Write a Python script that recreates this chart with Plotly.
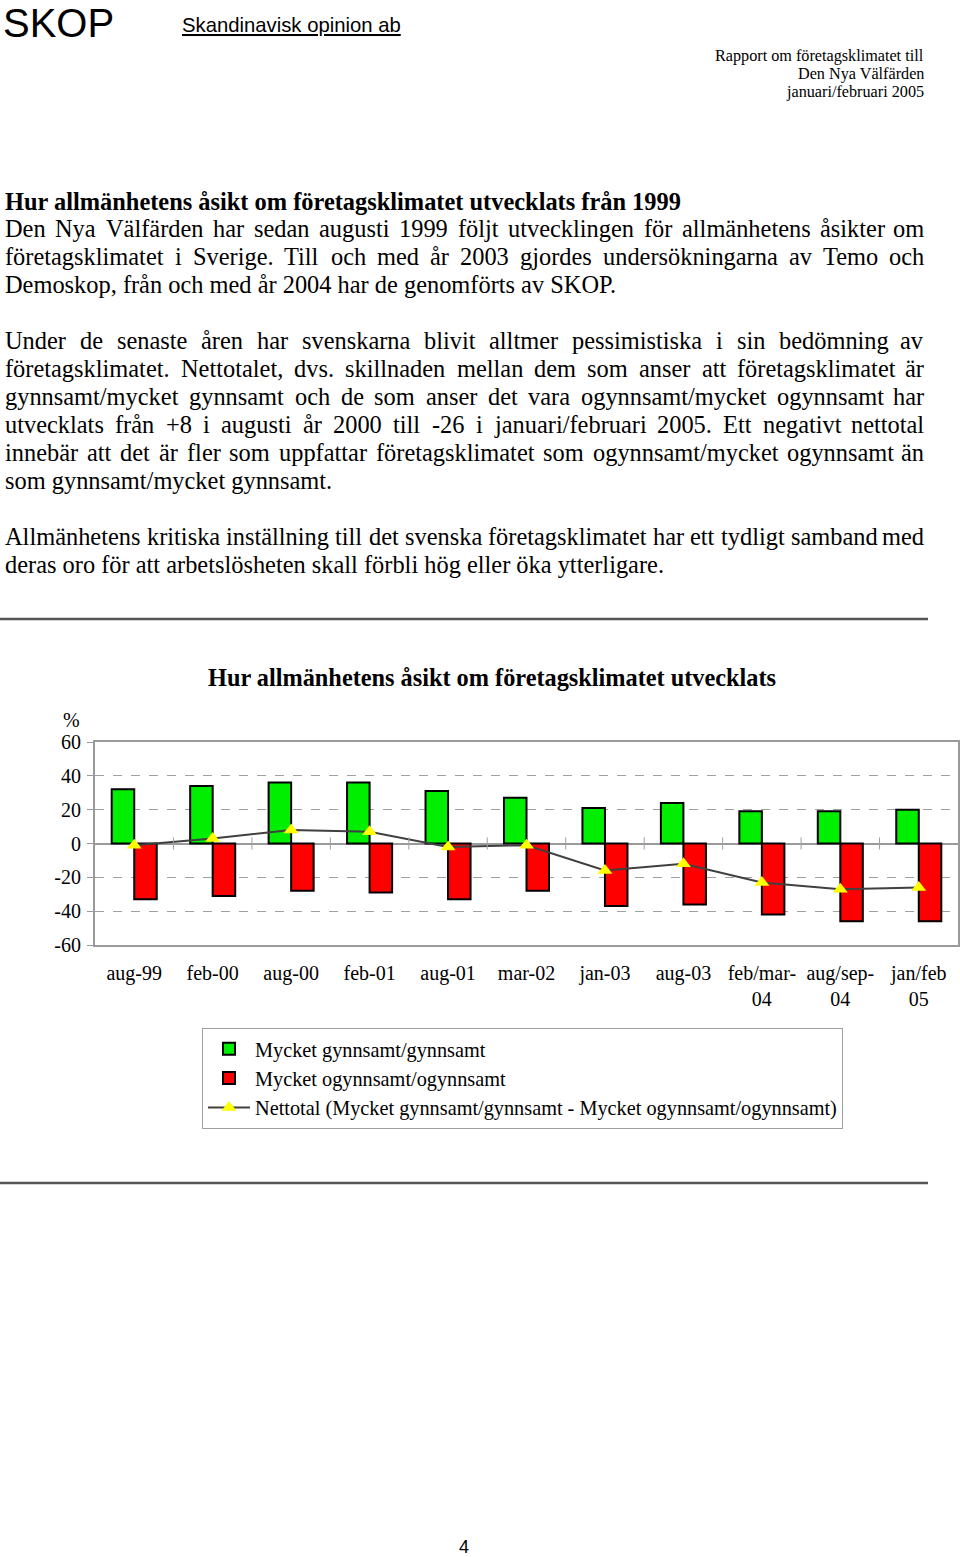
import plotly.graph_objects as go

W, H = 960, 1557
SERIF = "Liberation Serif"
SANS = "Liberation Sans"

# Diagramdata
CATEGORIES = ["aug-99", "feb-00", "aug-00", "feb-01", "aug-01", "mar-02", "jan-03",
              "aug-03", "feb/mar-<br>04", "aug/sep-<br>04", "jan/feb<br>05"]
GYNNSAMT = [32, 34, 36, 36, 31, 27, 21, 24, 19, 19, 20]
OGYNNSAMT = [-33, -31, -28, -29, -33, -28, -37, -36, -42, -46, -46]
NETTOTAL = [-1, 3, 8, 7, -2, -1, -16, -12, -23, -27, -26]
Y_TICKS = [60, 40, 20, 0, -20, -40, -60]
SERIES_NAMES = ["Mycket gynnsamt/gynnsamt",
                "Mycket ogynnsamt/ogynnsamt",
                "Nettotal (Mycket gynnsamt/gynnsamt - Mycket ogynnsamt/ogynnsamt)"]
CHART_TITLE = "Hur allmänhetens åsikt om företagsklimatet utvecklats"

# Sidans text
HEADING = "Hur allmänhetens åsikt om företagsklimatet utvecklats från 1999"
HEADER_RIGHT = ["Rapport om företagsklimatet till", "Den Nya Välfärden", "januari/februari 2005"]
# (rad, baslinje, marginaljusterad)
BODY_LINES = [
    ("Den Nya Välfärden har sedan augusti 1999 följt utvecklingen för allmänhetens åsikter om", 237, True),
    ("företagsklimatet i Sverige. Till och med år 2003 gjordes undersökningarna av Temo och", 265, True),
    ("Demoskop, från och med år 2004 har de genomförts av SKOP.", 293, False),
    ("Under de senaste åren har svenskarna blivit alltmer pessimistiska i sin bedömning av", 349, True),
    ("företagsklimatet. Nettotalet, dvs. skillnaden mellan dem som anser att företagsklimatet är", 377, True),
    ("gynnsamt/mycket gynnsamt och de som anser det vara ogynnsamt/mycket ogynnsamt har", 405, True),
    ("utvecklats från +8 i augusti år 2000 till -26 i januari/februari 2005. Ett negativt nettotal", 433, True),
    ("innebär att det är fler som uppfattar företagsklimatet som ogynnsamt/mycket ogynnsamt än", 461, True),
    ("som gynnsamt/mycket gynnsamt.", 489, False),
    ("Allmänhetens kritiska inställning till det svenska företagsklimatet har ett tydligt samband med", 545, True),
    ("deras oro för att arbetslösheten skall förbli hög eller öka ytterligare.", 573, False),
]

BODY_SIZE = 24.4
LEFT, RIGHT = 4, 925

# ungefärliga teckenbredder för Times (1/1000 em)
_groups = {250: " .,", 278: "ijlt/", 333: "fr-()I", 389: "s", 444: "aceäåéz",
           500: "bdghknopquvxyö0123456789", 556: "PSF", 564: "+", 611: "ETL",
           722: "wDNVKOUAHGY", 778: "m", 889: "M", 944: "W"}
TIMES_W = {c: w for w, chars in _groups.items() for c in chars}


def text_width(s, size):
    return sum(TIMES_W.get(c, 500) for c in s) * size / 1000


def px(x):
    return x / W


def py(y):
    return 1 - y / H


fig = go.Figure()

fig.add_trace(go.Bar(
    x=CATEGORIES, y=GYNNSAMT, name=SERIES_NAMES[0],
    marker=dict(color="#00ee00", line=dict(color="black", width=2)),
))
fig.add_trace(go.Bar(
    x=CATEGORIES, y=OGYNNSAMT, name=SERIES_NAMES[1],
    marker=dict(color="#ff0000", line=dict(color="black", width=2)),
))
fig.add_trace(go.Scatter(
    x=CATEGORIES, y=NETTOTAL, name=SERIES_NAMES[2], mode="lines+markers",
    line=dict(color="#404040", width=2),
    marker=dict(symbol="triangle-up", size=13, color="#ffff00", line=dict(width=0)),
))

annotations = []


def note(x, y, text, size, family=SERIF, xanchor="left", yanchor="middle"):
    annotations.append(dict(
        x=px(x), y=py(y), xref="paper", yref="paper", text=text, showarrow=False,
        xanchor=xanchor, yanchor=yanchor, borderpad=0,
        font=dict(family=family, size=size, color="black"),
    ))


# sidhuvud
note(2, 0, "SKOP", 40, SANS, yanchor="top")
note(181, 32 - 7, "<u>Skandinavisk opinion ab</u>", 20.3, SANS)
for i, line in enumerate(HEADER_RIGHT):
    note(RIGHT, 61.5 + 18 * i - 5.4, line, 16.2, xanchor="right")

# rubrik och brödtext
note(LEFT, 210 - 8.2, f"<b>{HEADING}</b>", BODY_SIZE)
for line, base, justify in BODY_LINES:
    yc = base - 8.2
    if not justify:
        note(LEFT, yc, line, BODY_SIZE)
        continue
    words = line.split(" ")
    widths = [text_width(w, BODY_SIZE) for w in words]
    gap = (RIGHT - LEFT - sum(widths)) / (len(words) - 1)
    x = LEFT
    for i, (w, wd) in enumerate(zip(words, widths)):
        if i == len(words) - 1:
            note(RIGHT, yc, w, BODY_SIZE, xanchor="right")
        else:
            note(x, yc, w, BODY_SIZE)
        x += wd + gap

# procenttecken och sidnummer
note(71, 720, "%", 20, xanchor="center")
note(464, 1547, "4", 18, SANS, xanchor="center")

shapes = []
# horisontella linjer runt diagrammet
for yl in (619, 1183):
    shapes.append(dict(type="line", xref="paper", yref="paper", x0=0, x1=px(928),
                       y0=py(yl), y1=py(yl), line=dict(color="#555555", width=2.5)))
# små streck på nollinjen mellan kategorierna
for i in range(1, len(CATEGORIES)):
    shapes.append(dict(type="line", xref="x", yref="y", x0=i - 0.5, x1=i - 0.5,
                       y0=-3.6, y1=3.6, line=dict(color="#a0a0a0", width=1)))

fig.update_layout(
    width=W, height=H,
    margin=dict(l=0, r=0, t=0, b=0, autoexpand=False),
    paper_bgcolor="white", plot_bgcolor="white",
    barmode="group", bargap=0.426, bargroupgap=0,
    title=dict(text=f"<b>{CHART_TITLE}</b>", x=px(492), xanchor="center",
               y=py(685.5 - 8.2), yanchor="middle",
               font=dict(family=SERIF, size=24.3, color="black")),
    xaxis=dict(
        domain=[px(95), px(958)], range=[-0.5, len(CATEGORIES) - 0.5],
        showline=True, mirror=True, linecolor="#9a9a9a", linewidth=2,
        showgrid=False, ticks="", ticklabelstandoff=9,
        tickfont=dict(family=SERIF, size=20, color="black"),
    ),
    yaxis=dict(
        domain=[py(945), py(742)], range=[-60, 60],
        tickvals=Y_TICKS, ticktext=[str(v) for v in Y_TICKS],
        showline=True, mirror=True, linecolor="#9a9a9a", linewidth=2,
        ticks="outside", ticklen=6, tickcolor="#9a9a9a", ticklabelstandoff=2,
        showgrid=True, gridcolor="#a0a0a0", griddash="dash", gridwidth=1,
        zeroline=True, zerolinecolor="#9a9a9a", zerolinewidth=2,
        tickfont=dict(family=SERIF, size=20, color="black"),
    ),
    legend=dict(
        x=px(202), y=py(1028), xanchor="left", yanchor="top",
        bordercolor="#a0a0a0", borderwidth=1, bgcolor="white",
        font=dict(family=SERIF, size=20.3, color="black"),
        itemwidth=42, traceorder="normal",
    ),
    showlegend=True,
    annotations=annotations,
    shapes=shapes,
)

# sidan ska börja i fönstrets övre vänstra hörn
fig.write_html("out.html", config={"displayModeBar": False},
               post_script="document.body.style.margin='0';document.body.style.overflow='hidden';")
